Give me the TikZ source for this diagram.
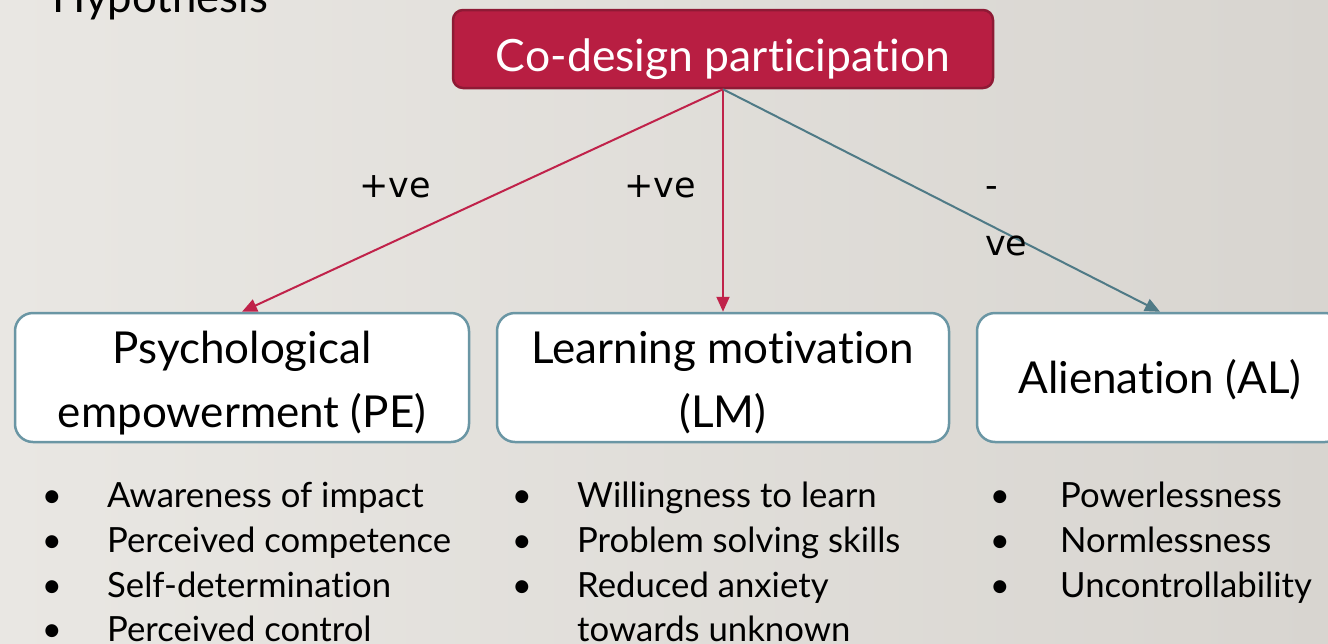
\documentclass[tikz,border=0pt]{standalone}
\usepackage{fontspec}
\setmainfont{Lato}[Ligatures=NoCommon]
\newfontfamily\labfont{DejaVu Sans}
\usetikzlibrary{arrows.meta}
\definecolor{crim}{HTML}{B81E42}
\definecolor{crimdark}{HTML}{8E1A35}
\definecolor{crimline}{HTML}{C0224A}
\definecolor{tealline}{HTML}{4F7A86}
\definecolor{boxedge}{HTML}{6A96A4}
\definecolor{bgl}{HTML}{E9E7E3}
\definecolor{bgr}{HTML}{D8D5D0}
\begin{document}
\begin{tikzpicture}[x=1pt,y=-1pt,
  topbox/.style={draw=crimdark, line width=2.5pt, fill=crim, rounded corners=10pt,
    minimum width=540pt, minimum height=78pt, text=white, inner sep=0pt,
    text height=44pt, text depth=0pt,
    font=\fontsize{44.5}{50}\selectfont},
  catbox/.style={draw=boxedge, line width=2.5pt, fill=white, rounded corners=18pt,
    minimum height=129pt, inner sep=0pt,
    font=\fontsize{44}{64}\selectfont},
  boxline/.style={inner sep=0pt, anchor=base, font=\fontsize{44}{64}\selectfont},
  poslink/.style={draw=crimline, line width=2pt, -{Triangle[length=15pt,width=13pt]}},
  neglink/.style={draw=tealline, line width=2pt, -{Triangle[length=15pt,width=13pt]}},
  sign/.style={inner sep=0pt, anchor=base west, font=\labfont\fontsize{35}{40}\selectfont},
  item/.style={inner sep=0pt, anchor=base west, font=\fontsize{34.7}{40}\selectfont},
  dot/.style={inner sep=0pt, anchor=base, font=\fontsize{34.7}{40}\selectfont},
  title/.style={inner sep=0pt, anchor=base west, font=\fontsize{43.7}{48}\selectfont}
]
\useasboundingbox (0,0) rectangle (1328,643);
\clip (0,0) rectangle (1328,643);
\shade[left color=bgl, right color=bgr] (0,0) rectangle (1328,643);

\node[title] (hyp) at (52,12) {Hypothesis};

\node[topbox] (top) at (723,49) {Co-design participation};

\node[catbox, minimum width=454pt] (pe) at (242,377.5) {};
\node[boxline] (pe1) at (242,363) {Psychological};
\node[boxline] (pe2) at (242,427) {empowerment (PE)};
\node[catbox, minimum width=452pt] (lm) at (723,377.5) {};
\node[boxline] (lm1) at (723,363) {Learning motivation};
\node[boxline] (lm2) at (723,427) {(LM)};
\node[catbox, minimum width=366pt, text height=31pt, text depth=0pt] (al) at (1160,377.5) {Alienation (AL)};

\draw[poslink] (top.south) -- (pe.north);
\draw[poslink] (top.south) -- (lm.north);
\draw[neglink] (top.south) -- (al.north);

\node[sign] (s1) at (359,197) {+ve};
\node[sign] (s2) at (624,197) {+ve};
\node[sign] (s3a) at (985,197) {-};
\node[sign] (s3b) at (985,255) {ve};

% PE list
\node[dot] (pb1) at (52,507) {•};
\node[dot] (pb2) at (52,552) {•};
\node[dot] (pb3) at (52,597) {•};
\node[dot] (pb4) at (52,641) {•};
\node[item] (p1) at (107,507) {Awareness of impact};
\node[item] (p2) at (107,552) {Perceived competence};
\node[item] (p3) at (107,597) {Self-determination};
\node[item] (p4) at (107,641) {Perceived control};

% LM list
\node[dot] (lb1) at (522,507) {•};
\node[dot] (lb2) at (522,552) {•};
\node[dot] (lb3) at (522,597) {•};
\node[item] (l1) at (577,507) {Willingness to learn};
\node[item] (l2) at (577,552) {Problem solving skills};
\node[item] (l3) at (577,597) {Reduced anxiety};
\node[item] (l4) at (577,641) {towards unknown};

% AL list
\node[dot] (ab1) at (1000,507) {•};
\node[dot] (ab2) at (1000,552) {•};
\node[dot] (ab3) at (1000,597) {•};
\node[item] (a1) at (1060,507) {Powerlessness};
\node[item] (a2) at (1060,552) {Normlessness};
\node[item] (a3) at (1060,597) {Uncontrollability};
\end{tikzpicture}
\end{document}
